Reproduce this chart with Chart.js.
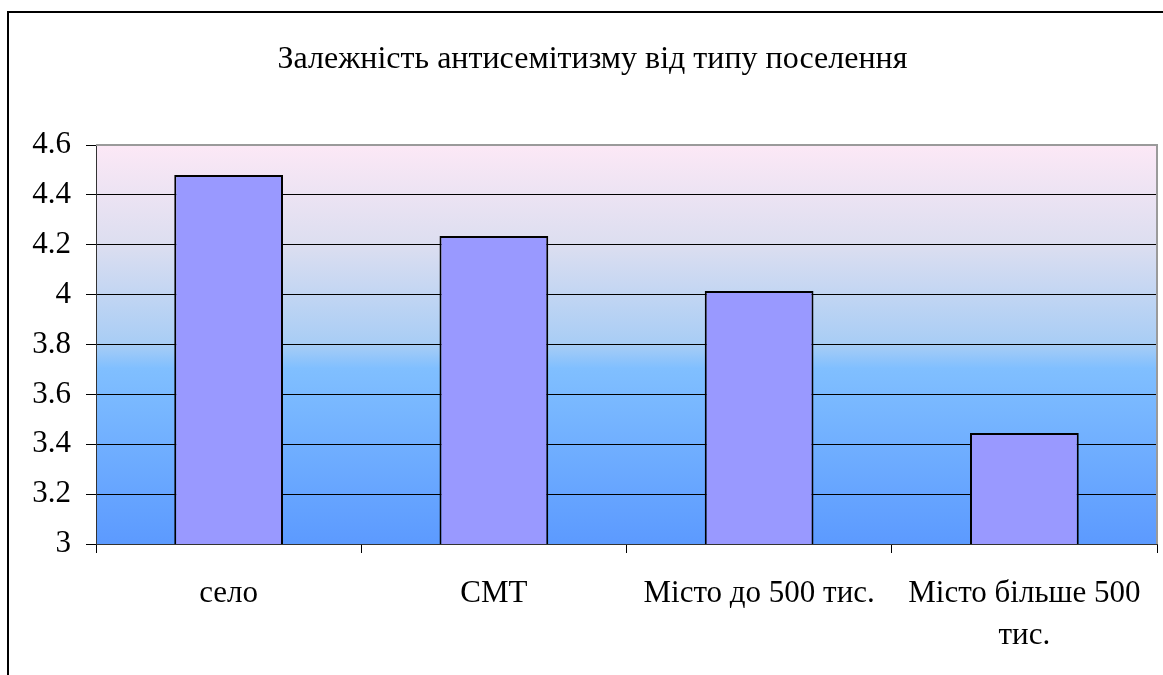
<!DOCTYPE html>
<html>
<head>
<meta charset="utf-8">
<script src="https://cdn.jsdelivr.net/npm/chart.js@4/dist/chart.umd.min.js"></script>
<style>
  html, body { margin: 0; padding: 0; background: #ffffff; }
  #c { display: block; }
</style>
</head>
<body>
<canvas id="c" width="1163" height="675"></canvas>
<script>
const chartTitle = 'Залежність антисемітизму від типу поселення';
const categories = ['село', 'СМТ', 'Місто до 500 тис.', ['Місто більше 500', 'тис.']];
const values = [4.48, 4.235, 4.015, 3.445];
const yTicks = [3, 3.2, 3.4, 3.6, 3.8, 4, 4.2, 4.4, 4.6];

const FONT = "'Liberation Serif', 'Times New Roman', serif";

const bgPlugin = {
  id: 'bgPlugin',
  beforeDraw(chart) {
    const { ctx, chartArea: a } = chart;
    const g = ctx.createLinearGradient(0, a.top, 0, a.bottom);
    g.addColorStop(0, '#fce8f6');
    g.addColorStop(0.25, '#dcdef0');
    g.addColorStop(0.5, '#a8cdf5');
    g.addColorStop(0.56, '#80bfff');
    g.addColorStop(1, '#5c9aff');
    ctx.save();
    ctx.fillStyle = g;
    ctx.fillRect(a.left, a.top, a.right - a.left, a.bottom - a.top);
    ctx.restore();
  },
  afterDraw(chart) {
    const { ctx, chartArea: a } = chart;
    ctx.save();
    ctx.strokeStyle = '#9a9a9a';
    ctx.lineWidth = 2;
    ctx.beginPath();
    ctx.moveTo(a.left, a.top);
    ctx.lineTo(a.right, a.top);
    ctx.lineTo(a.right, a.bottom);
    ctx.stroke();
    ctx.strokeStyle = '#000000';
    ctx.lineWidth = 2;
    ctx.beginPath();
    ctx.moveTo(8, 675);
    ctx.lineTo(8, 12);
    ctx.lineTo(1163, 12);
    ctx.stroke();
    ctx.restore();
  }
};

new Chart(document.getElementById('c'), {
  type: 'bar',
  data: {
    labels: categories,
    datasets: [{
      data: values,
      backgroundColor: '#9999ff',
      borderColor: '#000000',
      borderWidth: 2,
      borderSkipped: 'bottom',
      categoryPercentage: 1,
      barPercentage: 0.41
    }]
  },
  options: {
    responsive: false,
    animation: false,
    devicePixelRatio: 1,
    layout: { padding: { left: 28, right: 6, top: 0, bottom: 0 } },
    plugins: {
      legend: { display: false },
      tooltip: { enabled: false },
      title: {
        display: true,
        text: chartTitle,
        color: '#000000',
        font: { family: FONT, size: 32, weight: 'normal', lineHeight: 1.2 },
        padding: { top: 40, bottom: 66.6 }
      }
    },
    scales: {
      x: {
        grid: {
          display: true,
          offset: true,
          drawOnChartArea: false,
          drawTicks: true,
          tickLength: 9,
          color: '#000000',
          lineWidth: 1
        },
        border: { display: true, color: '#333333', width: 1 },
        ticks: {
          color: '#000000',
          font: { family: FONT, size: 31, lineHeight: 1.35 },
          padding: 20,
          maxRotation: 0,
          autoSkip: false
        },
        afterFit(s) { s.height = 131; }
      },
      y: {
        min: 3,
        max: 4.6,
        afterBuildTicks(s) { s.ticks = yTicks.map(v => ({ value: v })); },
        grid: {
          color: (c) => (c.tick && c.tick.value === 4.6 ? '#9a9a9a' : '#000000'),
          lineWidth: 1,
          tickLength: 10,
          drawTicks: true,
          tickColor: '#000000'
        },
        border: { display: true, color: '#333333', width: 1 },
        ticks: {
          color: '#000000',
          font: { family: FONT, size: 31 },
          padding: 15,
          callback: (v) => String(Math.round(v * 10) / 10)
        },
        afterFit(s) { s.width = 68; }
      }
    }
  },
  plugins: [bgPlugin]
});
</script>
</body>
</html>
